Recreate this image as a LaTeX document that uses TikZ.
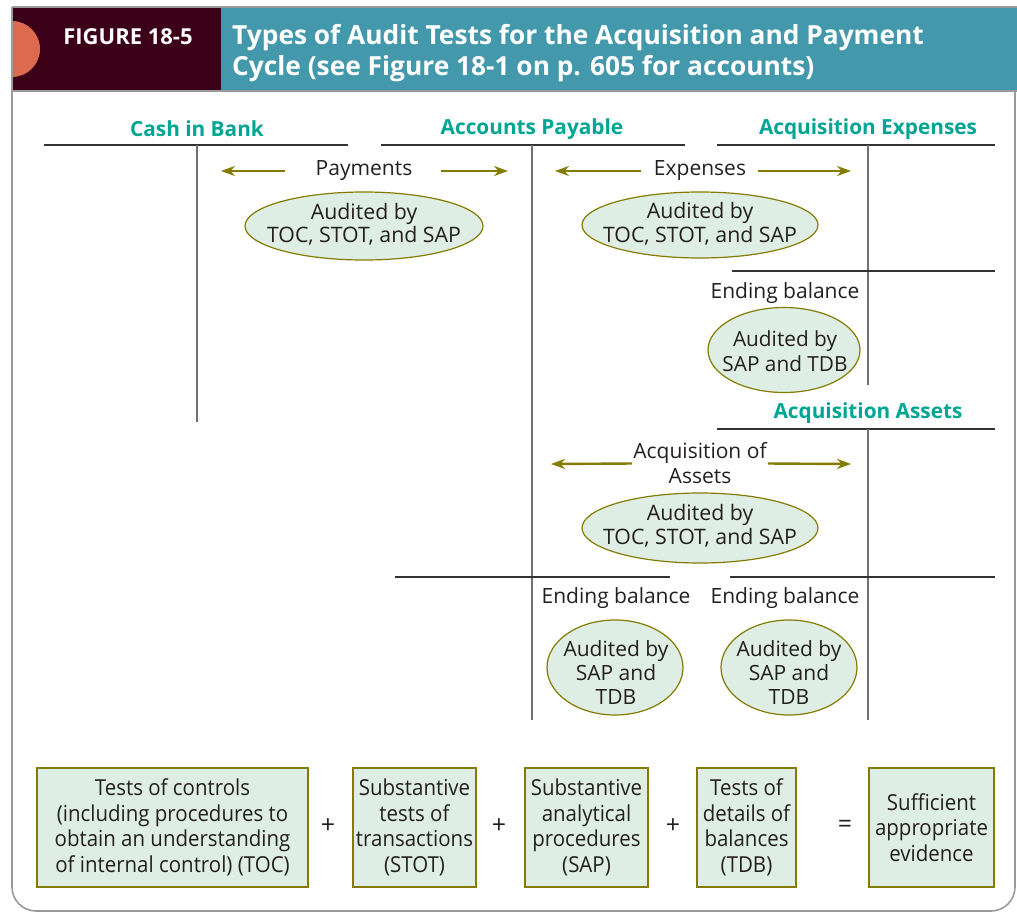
\documentclass[tikz,border=0pt]{standalone}
\usepackage{fontspec}
\setmainfont{Open Sans}
\newfontfamily\condfont[FakeStretch=0.93]{Open Sans}
\usetikzlibrary{shapes.geometric,arrows.meta}
\definecolor{hdrteal}{HTML}{4399AB}
\definecolor{maroonc}{HTML}{3B0018}
\definecolor{orng}{HTML}{DC6A4F}
\definecolor{acct}{HTML}{00A594}
\definecolor{olivec}{HTML}{857B00}
\definecolor{boxfill}{HTML}{DEEEE4}
\definecolor{framec}{HTML}{9A9A9A}
\definecolor{ink}{HTML}{231F20}
\definecolor{tline}{HTML}{333333}
\definecolor{vline}{HTML}{707070}
\begin{document}
\begin{tikzpicture}[x=1pt,y=-1pt,
  every node/.style={text=ink},
  body/.style={font=\fontsize{21}{25}\selectfont, inner sep=0pt, align=center},
  acctttl/.style={font=\fontsize{20.8}{24}\selectfont\bfseries, text=acct, inner sep=0pt},
  oval/.style={ellipse, draw=olivec, line width=1.2pt, fill=boxfill, inner sep=0pt},
  ovaltext/.style={font=\fontsize{21.3}{23.5}\selectfont, inner sep=0pt, align=center},
  testbox/.style={rectangle, draw=olivec, line width=1.2pt, fill=boxfill, inner sep=0pt,
     minimum height=119pt, font=\condfont\fontsize{22}{25.5}\selectfont, align=center},
  op/.style={font=\fontsize{25}{28}\selectfont, inner sep=0pt},
  hline/.style={draw=tline, line width=1.5pt},
  vrule/.style={draw=vline, line width=1.5pt},
  arr/.style={draw=olivec, line width=2.4pt, -{Stealth[length=14pt,width=10pt]}}
]
\useasboundingbox (0,0) rectangle (1017,913);
% header
\fill[maroonc] (12,8) rectangle (221,91);
\fill[hdrteal] (221,8) rectangle (1017,91);
\begin{scope}
\clip (12,8) rectangle (100,91);
\fill[orng] (12,49) circle[radius=28];
\end{scope}
\draw[framec, line width=1.6pt] (12,7) -- (1017,7);
\draw[framec, line width=1.6pt] (12,91) -- (1017,91);
\draw[framec, line width=1.6pt, rounded corners=24pt] (12,7) -- (12,911) -- (1015,911) -- (1015,91);
\node[font=\bfseries\fontsize{22}{24}\selectfont, text=white, inner sep=0pt] (fig) at (128,37) {FIGURE 18-5};
\node[font=\bfseries\fontsize{26.3}{31.5}\selectfont, text=white, inner sep=0pt, align=left, anchor=west] (title) at (232,53)
  {Types of Audit Tests for the Acquisition and Payment\\Cycle (see Figure 18-1 on p. 605 for accounts)};
% T-accounts
\node[acctttl] (cash) at (197,129) {Cash in Bank};
\node[acctttl] (ap) at (532,129) {Accounts Payable};
\node[acctttl] (ae) at (868,129) {Acquisition Expenses};
\node[acctttl] (aa) at (868,413) {Acquisition Assets};
\draw[hline] (44,145) -- (348,145);
\draw[vrule] (197,145) -- (197,422);
\draw[hline] (381,145) -- (685,145);
\draw[vrule] (532,145) -- (532,720);
\draw[hline] (717,145) -- (995,145);
\draw[vrule] (868,145) -- (868,385);
\draw[hline] (732,271) -- (995,271);
\draw[hline] (717,429) -- (995,429);
\draw[vrule] (868,429) -- (868,720);
\draw[hline] (395,577) -- (670,577);
\draw[hline] (730,577) -- (995,577);
% flows
\node[body] (pay) at (364,171) {Payments};
\coordinate (payL) at (221,171);
\coordinate (payR) at (508,171);
\draw[arr, shorten <=31pt] (pay.west) -- (payL);
\draw[arr, shorten <=29pt] (pay.east) -- (payR);
\node[body] (exp) at (700,171) {Expenses};
\coordinate (expL) at (555,171);
\coordinate (expR) at (851,171);
\draw[arr, shorten <=13pt] (exp.west) -- (expL);
\draw[arr, shorten <=12pt] (exp.east) -- (expR);
\node[body] (acq) at (700,463.5) {Acquisition of\\Assets};
\coordinate (acqL) at (551,464);
\coordinate (acqR) at (851,464);
\draw[arr, shorten <=1pt] (acq.west) -- (acqL);
\draw[arr, shorten <=1pt] (acq.east) -- (acqR);
% ovals
\node[oval, minimum width=238pt, minimum height=68pt] (o1) at (364,226) {};
\node[ovaltext] (t1) at (364,224.5) {Audited by\\TOC, STOT, and SAP};
\node[oval, minimum width=236pt, minimum height=66pt] (o2) at (700,225) {};
\node[ovaltext] (t2) at (700,224) {Audited by\\TOC, STOT, and SAP};
\node[body] (eb1) at (785,293) {Ending balance};
\node[oval, minimum width=152pt, minimum height=85pt] (o3) at (784,350) {};
\node[ovaltext, font=\fontsize{20.8}{24.5}\selectfont] (t3) at (785,351) {Audited by\\SAP and TDB};
\node[oval, minimum width=236pt, minimum height=70pt] (o4) at (700,528) {};
\node[ovaltext] (t4) at (700,526) {Audited by\\TOC, STOT, and SAP};
\node[body] (eb2) at (616,598) {Ending balance};
\node[body] (eb3) at (785,598) {Ending balance};
\node[oval, minimum width=136pt, minimum height=95pt] (o5) at (615,667.5) {};
\node[ovaltext, font=\fontsize{21}{24}\selectfont] (t5) at (616,673) {Audited by\\SAP and\\TDB};
\node[oval, minimum width=136pt, minimum height=95pt] (o6) at (789,667.5) {};
\node[ovaltext, font=\fontsize{21}{24}\selectfont] (t6) at (789,673) {Audited by\\SAP and\\TDB};
% bottom equation
\node[testbox, minimum width=271pt] (b1) at (172.5,827.5) {Tests of controls\\(including procedures to\\obtain an understanding\\of internal control) (TOC)};
\node[op] (p1) at (328,826) {+};
\node[testbox, minimum width=123pt] (b2) at (414.5,827.5) {Substantive\\tests of\\transactions\\(STOT)};
\node[op] (p2) at (499,826) {+};
\node[testbox, minimum width=123pt] (b3) at (586.5,827.5) {Substantive\\analytical\\procedures\\(SAP)};
\node[op] (p3) at (673,826) {+};
\node[testbox, minimum width=99pt] (b4) at (746.5,827.5) {Tests of\\details of\\balances\\(TDB)};
\node[op] (eq) at (845,826) {=};
\node[testbox, minimum width=125pt] (b5) at (931.5,827.5) {Sufficient\\appropriate\\evidence};
\end{tikzpicture}
\end{document}
